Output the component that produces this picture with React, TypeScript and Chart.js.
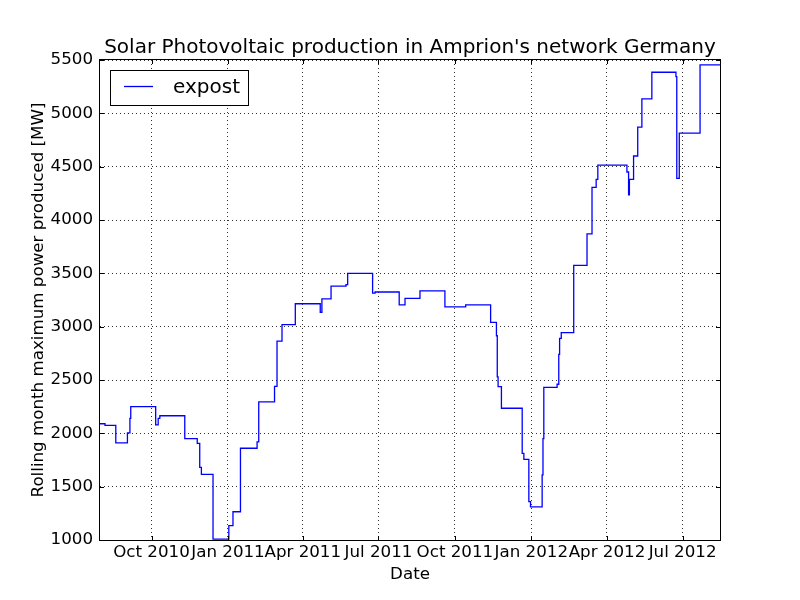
import React, { useEffect, useRef } from "react";
import { Chart, registerables } from "chart.js";

Chart.register(...registerables);

// ---- data (change points of the rolling-month maximum, step series) ----
const changeDates = [
  "2010-07-31", "2010-08-06", "2010-08-19", "2010-09-02", "2010-09-05", "2010-09-06",
  "2010-10-06", "2010-10-09", "2010-10-11", "2010-11-10", "2010-11-25", "2010-11-28",
  "2010-11-30", "2010-12-14", "2011-01-02", "2011-01-07", "2011-01-16", "2011-02-05",
  "2011-02-07", "2011-02-26", "2011-03-01", "2011-03-07", "2011-03-23", "2011-04-22",
  "2011-04-24", "2011-05-05", "2011-05-23", "2011-05-25", "2011-06-24", "2011-06-27",
  "2011-07-26", "2011-08-02", "2011-08-20", "2011-09-19", "2011-10-14", "2011-11-13",
  "2011-11-20", "2011-11-21", "2011-11-22", "2011-11-26", "2011-12-21", "2011-12-23",
  "2011-12-29", "2011-12-31", "2012-01-14", "2012-01-15", "2012-01-16", "2012-02-01",
  "2012-02-03", "2012-02-04", "2012-02-06", "2012-02-21", "2012-03-08", "2012-03-14",
  "2012-03-19", "2012-03-21", "2012-04-25", "2012-04-27", "2012-04-28", "2012-05-03",
  "2012-05-08", "2012-05-13", "2012-05-25", "2012-06-23", "2012-06-24", "2012-06-27",
  "2012-07-22", "2012-08-15",
];
const expostValues = [
  2090, 2075, 1910, 2005, 2140, 2250,
  2080, 2140, 2165, 1950, 1905, 1680,
  1615, 1008, 1135, 1265, 1860, 1920,
  2295, 2440, 2865, 3020, 3215, 3135,
  3260, 3380, 3395, 3500, 3315, 3325,
  3205, 3265, 3335, 3185, 3205, 3040,
  2915, 2530, 2437, 2235, 1813, 1755,
  1360, 1310, 1610, 1950, 2430, 2460,
  2740, 2890, 2945, 3575, 3870, 4305,
  4380, 4515, 4450, 4235, 4380, 4600,
  4870, 5135, 5385, 5345, 4390, 4815,
  5455, 5455,
];

const xTickDates = [
  "2010-10-01", "2011-01-01", "2011-04-01", "2011-07-01",
  "2011-10-01", "2012-01-01", "2012-04-01", "2012-07-01",
];
const xTickLabels = [
  "Oct 2010", "Jan 2011", "Apr 2011", "Jul 2011",
  "Oct 2011", "Jan 2012", "Apr 2012", "Jul 2012",
];
const yTickValues = [1000, 1500, 2000, 2500, 3000, 3500, 4000, 4500, 5000, 5500];

const xMinDate = "2010-07-31";
const xMaxDate = "2012-08-15";

const titleText = "Solar Photovoltaic production in Amprion's network Germany";
const xLabelText = "Date";
const yLabelText = "Rolling month maximum power produced [MW]";
const seriesName = "expost";

const FONT = "'DejaVu Sans', 'Liberation Sans', sans-serif";

const toDay = (s: string) => {
  const [y, m, d] = s.split("-").map(Number);
  return Date.UTC(y, m - 1, d) / 86400000;
};

const xTickDays = xTickDates.map(toDay);

const decorPlugin = {
  id: "decor",
  afterDraw(chart: any) {
    const { ctx, chartArea: a, scales } = chart;
    ctx.save();
    ctx.strokeStyle = "#000";
    ctx.lineWidth = 1;
    // frame
    ctx.strokeRect(a.left - 0.5, a.top - 0.5, a.right - a.left + 1, a.bottom - a.top + 1);
    // inward ticks
    const tl = 4;
    ctx.beginPath();
    for (const v of xTickDays) {
      const px = Math.round(scales.x.getPixelForValue(v)) + 0.5;
      ctx.moveTo(px, a.bottom);
      ctx.lineTo(px, a.bottom - tl);
      ctx.moveTo(px, a.top);
      ctx.lineTo(px, a.top + tl);
    }
    for (const v of yTickValues) {
      const py = Math.round(scales.y.getPixelForValue(v)) + 0.5;
      ctx.moveTo(a.left, py);
      ctx.lineTo(a.left + tl, py);
      ctx.moveTo(a.right, py);
      ctx.lineTo(a.right - tl, py);
    }
    ctx.stroke();

    // title
    ctx.fillStyle = "#000";
    ctx.font = `20px ${FONT}`;
    ctx.textAlign = "center";
    ctx.textBaseline = "alphabetic";
    ctx.fillText(titleText, (a.left + a.right) / 2, 53);

    // x label
    ctx.font = `16.7px ${FONT}`;
    ctx.fillText(xLabelText, (a.left + a.right) / 2, 579);

    // y label
    ctx.save();
    ctx.translate(43, (a.top + a.bottom) / 2);
    ctx.rotate(-Math.PI / 2);
    ctx.fillText(yLabelText, 0, 0);
    ctx.restore();

    // legend
    const lx = 110.5, ly = 70.5, lw = 138, lh = 35;
    ctx.fillStyle = "#fff";
    ctx.fillRect(lx, ly, lw, lh);
    ctx.strokeStyle = "#000";
    ctx.lineWidth = 1;
    ctx.strokeRect(lx, ly, lw, lh);
    ctx.strokeStyle = "#0000ff";
    ctx.lineWidth = 1.3;
    ctx.beginPath();
    ctx.moveTo(124, 86.5);
    ctx.lineTo(153, 86.5);
    ctx.stroke();
    ctx.fillStyle = "#000";
    ctx.font = `20px ${FONT}`;
    ctx.textAlign = "left";
    ctx.fillText(seriesName, 173, 93);
    ctx.restore();
  },
};

export default function App() {
  const ref = useRef<HTMLCanvasElement>(null);

  useEffect(() => {
    if (!ref.current) return;
    const points = changeDates.map((d, i) => ({ x: toDay(d), y: expostValues[i] }));
    const chart = new Chart(ref.current, {
      type: "line",
      data: {
        datasets: [
          {
            label: seriesName,
            data: points,
            borderColor: "#0000ff",
            borderWidth: 1.3,
            pointRadius: 0,
            fill: false,
            stepped: true,
            tension: 0,
          },
        ],
      },
      options: {
        animation: false,
        responsive: false,
        events: [],
        layout: { padding: { top: 60, left: 0, right: 80, bottom: 0 } },
        plugins: {
          legend: { display: false },
          title: { display: false },
          tooltip: { enabled: false },
        },
        scales: {
          x: {
            type: "linear",
            min: toDay(xMinDate),
            max: toDay(xMaxDate),
            afterBuildTicks: (scale: any) => {
              scale.ticks = xTickDays.map((v) => ({ value: v }));
            },
            afterFit: (scale: any) => {
              scale.height = 60;
            },
            ticks: {
              autoSkip: false,
              maxRotation: 0,
              minRotation: 0,
              padding: 3,
              color: "#000",
              font: { family: FONT, size: 16.7 },
              callback: (value: any) => {
                const i = xTickDays.indexOf(Number(value));
                return i >= 0 ? xTickLabels[i] : "";
              },
            },
            grid: {
              color: "rgba(0,0,0,0.8)",
              lineWidth: 1,
              drawTicks: false,
            },
            border: { display: false, dash: [1, 3] },
          },
          y: {
            type: "linear",
            min: 1000,
            max: 5500,
            afterBuildTicks: (scale: any) => {
              scale.ticks = yTickValues.map((v) => ({ value: v }));
            },
            afterFit: (scale: any) => {
              scale.width = 100;
            },
            ticks: {
              padding: 7,
              color: "#000",
              font: { family: FONT, size: 16.7 },
              callback: (value: any) => String(value),
            },
            grid: {
              color: "rgba(0,0,0,0.8)",
              lineWidth: 1,
              drawTicks: false,
            },
            border: { display: false, dash: [1, 3] },
          },
        },
      },
      plugins: [decorPlugin],
    });
    return () => chart.destroy();
  }, []);

  return (
    <div style={{ position: "absolute", left: 0, top: 0, width: 800, height: 600, background: "#fff" }}>
      <canvas ref={ref} width={800} height={600} style={{ width: 800, height: 600 }} />
    </div>
  );
}
